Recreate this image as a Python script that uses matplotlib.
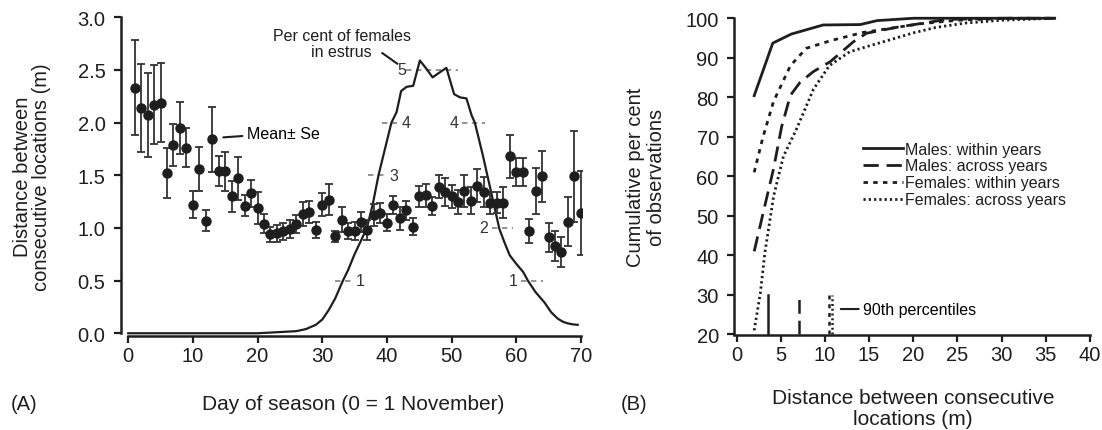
import numpy as np
import matplotlib
matplotlib.use("Agg")
import matplotlib.pyplot as plt

plt.rcParams['font.family'] = ['Liberation Sans', 'DejaVu Sans']

# ---------------- panel A data ----------------
days = np.arange(1, 71)
mean_dist = [2.33, 2.14, 2.07, 2.17, 2.19, 1.52, 1.79, 1.95, 1.76, 1.22,
             1.56, 1.07, 1.84, 1.54, 1.54, 1.30, 1.47, 1.21, 1.33, 1.19,
             1.04, 0.94, 0.95, 0.97, 0.99, 1.04, 1.13, 1.15, 0.98, 1.22,
             1.27, 0.92, 1.08, 0.97, 0.97, 1.06, 0.98, 1.12, 1.14, 1.05,
             1.22, 1.09, 1.17, 1.01, 1.30, 1.31, 1.21, 1.39, 1.34, 1.30,
             1.25, 1.35, 1.26, 1.40, 1.34, 1.24, 1.24, 1.24, 1.68, 1.53,
             1.53, 0.97, 1.35, 1.49, 0.91, 0.83, 0.77, 1.06, 1.49, 1.14]
se_dist = [0.45, 0.42, 0.40, 0.375, 0.375, 0.24, 0.20, 0.245, 0.185, 0.13,
           0.205, 0.10, 0.31, 0.14, 0.185, 0.15, 0.20, 0.10, 0.13, 0.15,
           0.09, 0.07, 0.08, 0.08, 0.085, 0.085, 0.115, 0.105, 0.08, 0.11,
           0.145, 0.055, 0.115, 0.075, 0.085, 0.095, 0.095, 0.105, 0.095, 0.08,
           0.085, 0.105, 0.09, 0.08, 0.10, 0.11, 0.085, 0.11, 0.13, 0.11,
           0.115, 0.155, 0.13, 0.155, 0.145, 0.105, 0.10, 0.145, 0.205, 0.135,
           0.13, 0.115, 0.215, 0.24, 0.14, 0.14, 0.14, 0.235, 0.435, 0.40]

# females in estrus curve (drawn in left-axis units)
estrus_day = [0, 20, 23, 26, 27.5, 29, 30, 31, 32, 33.2, 34, 35, 36, 36.9, 37.8,
              38.7, 39.7, 40.7, 41.5, 42.2, 43.05, 44.07, 45.1, 46, 47.07, 48,
              49.2, 50.4, 51.3, 52.3, 53.1, 53.6, 54.8, 55.9, 56.7, 57.4, 58.2,
              59.0, 60, 61.1, 61.8, 63, 64.4, 65.4, 66.4, 67.2, 67.9, 68.7, 69.5]
estrus_val = [0, 0, 0.01, 0.02, 0.04, 0.08, 0.13, 0.22, 0.33, 0.5, 0.6, 0.75, 0.88,
              1.0, 1.22, 1.5, 1.75, 2.0, 2.1, 2.3, 2.34, 2.35, 2.59, 2.52, 2.43,
              2.47, 2.52, 2.27, 2.24, 2.23, 2.07, 2.0, 1.7, 1.4, 1.18, 0.99, 0.86,
              0.74, 0.66, 0.58, 0.5, 0.39, 0.29, 0.2, 0.14, 0.11, 0.095, 0.085, 0.08]

# scale marks for the estrus curve: level, dash start, dash end, label x
scale_level = [1, 3, 4, 5, 4, 2, 1]
scale_x0 = [32.0, 37.1, 39.2, 43.0, 51.6, 56.2, 60.8]
scale_x1 = [34.7, 39.7, 41.5, 51.0, 55.2, 59.5, 64.2]
scale_lab_x = [35.8, 41.1, 43.0, 42.3, 50.4, 54.9, 59.5]

# ---------------- panel B data ----------------
m_within_x = [2.0, 4.1, 6.2, 9.8, 14.0, 15.9, 20.0, 25.0, 30.0, 36.0]
m_within_y = [80.4, 93.7, 96.0, 98.3, 98.4, 99.4, 100, 100, 100, 100]
m_across_x = [2.0, 3.2, 4.2, 5.1, 6.1, 7.2, 8.7, 10.6, 13.2, 14.7, 18.1, 23.8, 30.0, 36.0]
m_across_y = [41.0, 52.5, 62.0, 72.5, 80.5, 83.8, 86.5, 89.0, 94.0, 96.2, 97.7, 99.7, 100, 100]
f_within_x = [2.0, 3.0, 4.2, 6.1, 7.9, 10.6, 14.3, 20.8, 25.0, 31.0, 36.0]
f_within_y = [61.0, 70.0, 79.0, 88.0, 92.4, 94.3, 96.4, 98.6, 99.5, 100, 100]
f_across_x = [2.0, 2.7, 3.2, 4.2, 5.3, 6.8, 8.7, 10.5, 12.8, 15.0, 17.0, 20.0, 22.6, 26.0, 30.0, 36.0]
f_across_y = [21.0, 30.5, 40.5, 55.0, 65.0, 72.0, 82.0, 88.0, 91.5, 93.0, 94.3, 96.3, 97.7, 98.8, 99.5, 100]
pct90 = [3.6, 7.1, 10.5, 10.8]

labels = ["Males: within years", "Males: across years",
          "Females: within years", "Females: across years"]

ink = "#1e1e1e"
grey = "#8a8a8a"

fig = plt.figure(figsize=(11.02, 4.31), dpi=100)

############################## panel A ##############################
ax = fig.add_axes([0.1095, 0.2181, 0.4182, 0.7394])
ax.errorbar(days, mean_dist, yerr=se_dist, fmt="o", color=ink, ms=6.5,
            ecolor="#333333", elinewidth=1.3, capsize=2.8, capthick=1.3, zorder=3)
ax.plot(estrus_day, estrus_val, "-", color=ink, lw=1.6, zorder=2)

for lev, x0, x1, lx in zip(scale_level, scale_x0, scale_x1, scale_lab_x):
    yv = lev * 0.5
    ax.plot([x0, x1], [yv, yv], color=grey, lw=1.3, dashes=(3, 2.5), zorder=1)
    ax.text(lx, yv, str(lev), ha="center", va="center", fontsize=11.5, color="#333333")

ax.text(33.0, 2.75, "Per cent of females\nin estrus", ha="center", va="center",
        fontsize=11.5, linespacing=1.1, color=ink)
ax.plot([39.3, 41.6], [2.66, 2.56], "-", color=ink, lw=1.5)
ax.annotate("Mean\u00b1 Se", xy=(14.7, 1.86), xytext=(18.3, 1.90),
            ha="left", va="center", fontsize=11.5,
            arrowprops=dict(arrowstyle="-", color=ink, lw=1.5, shrinkA=1, shrinkB=0))

ax.set_xlim(-1.17, 70.1)
ax.set_ylim(-0.026, 3.0)
ax.set_xticks(range(0, 71, 10))
ax.set_yticks(np.arange(0, 3.01, 0.5))
ax.set_yticklabels(["%.1f" % v for v in np.arange(0, 3.01, 0.5)])
ax.spines["top"].set_visible(False)
ax.spines["right"].set_visible(False)
ax.spines["left"].set_bounds(0, 3.0)
ax.spines["bottom"].set_bounds(0, 70)
for s in ["left", "bottom"]:
    ax.spines[s].set_linewidth(1.8)
    ax.spines[s].set_color(ink)
ax.tick_params(axis="both", direction="out", length=5, width=1.6, color=ink,
               labelsize=14.5, labelcolor=ink)
ax.tick_params(axis="y", pad=6)
ax.tick_params(axis="x", pad=2)

fig.text(32 / 1102, 1 - 177 / 431, "Distance between\nconsecutive locations (m)",
         rotation=90, ha="center", va="center", fontsize=14.5, linespacing=1.05, color=ink)
fig.text(353 / 1102, 1 - 405 / 431, "Day of season (0 = 1 November)",
         ha="center", va="center", fontsize=15, color=ink)
fig.text(24 / 1102, 1 - 405 / 431, "(A)", ha="center", va="center", fontsize=14.5, color=ink)

############################## panel B ##############################
bx = fig.add_axes([0.6661, 0.2202, 0.3234, 0.7397])
styles = [dict(ls="-"), dict(dashes=(5.5, 2.8)), dict(dashes=(1.6, 1.9)), dict(dashes=(0.8, 1.1))]
series = [(m_within_x, m_within_y), (m_across_x, m_across_y),
          (f_within_x, f_within_y), (f_across_x, f_across_y)]
for (xs, ys), st, lab in zip(series, styles, labels):
    bx.plot(xs, ys, color=ink, lw=2.0, label=lab, **st)
for xv, st in zip(pct90, styles):
    bx.plot([xv, xv], [20, 30], color=ink, lw=1.8, **st)

bx.annotate("90th percentiles", xy=(11.8, 26.4), xytext=(14.3, 26.4),
            ha="left", va="center", fontsize=11.5,
            arrowprops=dict(arrowstyle="-", color=ink, lw=1.5, shrinkA=1, shrinkB=0))

leg = bx.legend(loc="upper left", bbox_to_anchor=(0.362, 0.607), frameon=False,
                fontsize=11.5, handlelength=2.5, handletextpad=0.15,
                labelspacing=0.12, borderpad=0, borderaxespad=0)
for t in leg.get_texts():
    t.set_color(ink)

bx.set_xlim(-0.28, 40.05)
bx.set_ylim(19.8, 100.5)
bx.set_xticks(range(0, 41, 5))
bx.set_yticks(range(20, 101, 10))
bx.spines["top"].set_visible(False)
bx.spines["right"].set_visible(False)
bx.spines["left"].set_bounds(20, 100)
for s in ["left", "bottom"]:
    bx.spines[s].set_linewidth(1.8)
    bx.spines[s].set_color(ink)
bx.tick_params(axis="both", direction="out", length=5, width=1.6, color=ink,
               labelsize=14.5, labelcolor=ink)
bx.tick_params(axis="y", pad=6)
bx.tick_params(axis="x", pad=2)

fig.text(646 / 1102, 1 - 177 / 431, "Cumulative per cent\nof observations",
         rotation=90, ha="center", va="center", fontsize=14.5, linespacing=1.15, color=ink)
fig.text(913 / 1102, 1 - 409 / 431, "Distance between consecutive\nlocations (m)",
         ha="center", va="center", fontsize=15, linespacing=1.15, color=ink)
fig.text(634 / 1102, 1 - 405 / 431, "(B)", ha="center", va="center", fontsize=14.5, color=ink)

fig.savefig("out.png", dpi=100, facecolor="white")
